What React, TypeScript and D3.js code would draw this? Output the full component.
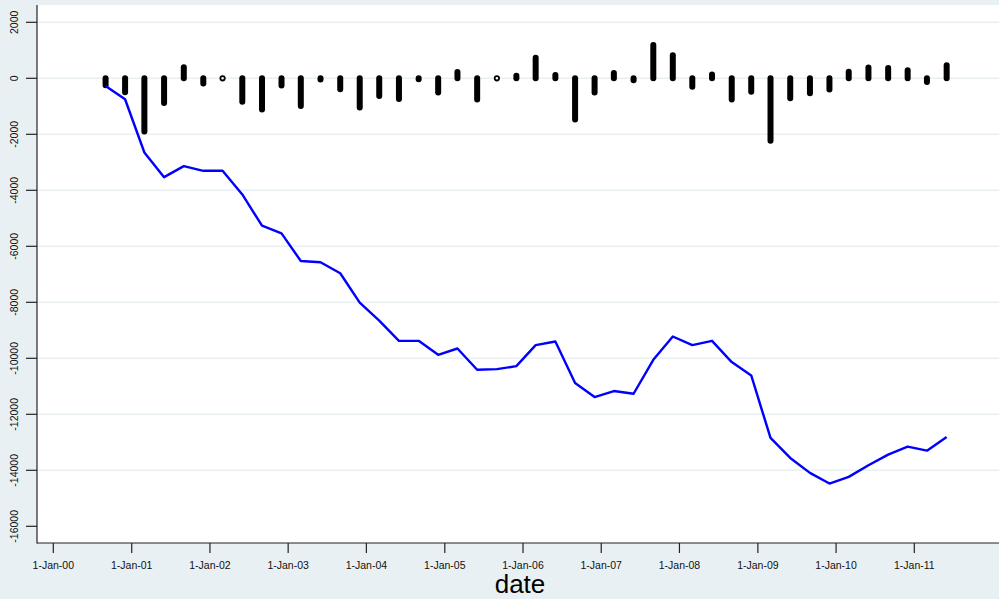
import React, { useEffect, useRef } from 'react';
import * as d3 from 'd3';

// quarterly observation dates
const dates = [
  '2000-09-01', '2000-12-01', '2001-03-01', '2001-06-01', '2001-09-01', '2001-12-01',
  '2002-03-01', '2002-06-01', '2002-09-01', '2002-12-01', '2003-03-01', '2003-06-01',
  '2003-09-01', '2003-12-01', '2004-03-01', '2004-06-01', '2004-09-01', '2004-12-01',
  '2005-03-01', '2005-06-01', '2005-09-01', '2005-12-01', '2006-03-01', '2006-06-01',
  '2006-09-01', '2006-12-01', '2007-03-01', '2007-06-01', '2007-09-01', '2007-12-01',
  '2008-03-01', '2008-06-01', '2008-09-01', '2008-12-01', '2009-03-01', '2009-06-01',
  '2009-09-01', '2009-12-01', '2010-03-01', '2010-06-01', '2010-09-01', '2010-12-01',
  '2011-03-01', '2011-06-01',
];

// quarterly change (spikes)
const changes = [
  -250, -500, -1900, -880, 392, -190, 0, -840, -1117, -255, -986, -45,
  -390, -1046, -636, -736, -30, -505, 225, -754, 0, 90, 730, 120,
  -1468, -510, 190, -70, 1190, 820, -300, 140, -760, -476, -2227, -713,
  -535, -400, 238, 390, 365, 285, -130, 470,
];

// cumulative level (blue line)
const level = [
  -274, -749, -2650, -3530, -3137, -3304, -3304, -4147, -5264, -5537, -6524, -6571,
  -6963, -8010, -8652, -9376, -9376, -9875, -9650, -10410, -10386, -10280, -9530, -9400,
  -10885, -11384, -11170, -11266, -10053, -9222, -9530, -9376, -10136, -10613, -12845, -13558,
  -14093, -14474, -14236, -13822, -13440, -13155, -13298, -12810,
];

const yTicks = [2000, 0, -2000, -4000, -6000, -8000, -10000, -12000, -14000, -16000];
const xTickYears = ['2000', '2001', '2002', '2003', '2004', '2005', '2006', '2007', '2008', '2009', '2010', '2011'];

const W = 999;
const H = 599;

export default function App() {
  const svgRef = useRef<SVGSVGElement>(null);

  useEffect(() => {
    if (!svgRef.current) return;
    const svg = d3.select(svgRef.current);
    svg.selectAll('*').remove();

    const plot = { left: 37, right: 999, top: 5, bottom: 543 };
    const font = '"Liberation Sans", Arial, sans-serif';

    const x = d3.scaleUtc()
      .domain([new Date(Date.UTC(2000, 0, 1)), new Date(Date.UTC(2011, 0, 1))])
      .range([53.3, 914.3]);
    const y = d3.scaleLinear().domain([2000, -16000]).range([22.3, 526.3]);

    const parse = d3.utcParse('%Y-%m-%d');
    const pts = dates.map((d, i) => ({ date: parse(d) as Date, chg: changes[i], lvl: level[i] }));

    // backgrounds
    svg.append('rect').attr('width', W).attr('height', H).attr('fill', '#e9f0f3');
    svg.append('rect')
      .attr('x', plot.left).attr('y', plot.top)
      .attr('width', plot.right - plot.left).attr('height', plot.bottom - plot.top)
      .attr('fill', '#ffffff');

    // grid
    svg.append('g').selectAll('line')
      .data(yTicks.filter(t => t > -16000))
      .enter().append('line')
      .attr('x1', plot.left).attr('x2', plot.right)
      .attr('y1', d => y(d)).attr('y2', d => y(d))
      .attr('stroke', '#e9f0f3').attr('stroke-width', 1.6);

    // spikes
    const spikes = svg.append('g');
    pts.forEach(p => {
      if (p.chg === 0) {
        spikes.append('circle')
          .attr('cx', x(p.date)).attr('cy', y(0)).attr('r', 2.2)
          .attr('fill', '#ffffff').attr('stroke', '#000').attr('stroke-width', 1.8);
      } else {
        spikes.append('line')
          .attr('x1', x(p.date)).attr('x2', x(p.date))
          .attr('y1', y(0)).attr('y2', y(p.chg))
          .attr('stroke', '#000').attr('stroke-width', 6)
          .attr('stroke-linecap', 'round');
      }
    });

    // level line
    const line = d3.line<typeof pts[0]>().x(d => x(d.date)).y(d => y(d.lvl));
    svg.append('path')
      .datum(pts)
      .attr('d', line)
      .attr('fill', 'none')
      .attr('stroke', '#0000ff')
      .attr('stroke-width', 2.4)
      .attr('stroke-linejoin', 'round');

    // axes lines
    svg.append('line')
      .attr('x1', plot.left).attr('x2', plot.left)
      .attr('y1', plot.top).attr('y2', plot.bottom + 0.5)
      .attr('stroke', '#222').attr('stroke-width', 1.2);
    svg.append('line')
      .attr('x1', plot.left).attr('x2', plot.right)
      .attr('y1', plot.bottom).attr('y2', plot.bottom)
      .attr('stroke', '#222').attr('stroke-width', 1.2);

    // y ticks and labels
    const yg = svg.append('g');
    yTicks.forEach(t => {
      yg.append('line')
        .attr('x1', 26).attr('x2', plot.left)
        .attr('y1', y(t)).attr('y2', y(t))
        .attr('stroke', '#222').attr('stroke-width', 1.2);
      yg.append('text')
        .attr('transform', `translate(18,${y(t)}) rotate(-90)`)
        .attr('text-anchor', 'middle')
        .style('font-family', font)
        .style('font-size', '10.5px')
        .attr('fill', '#111')
        .text(String(t));
    });

    // x ticks and labels
    const fmt = d3.utcFormat('%-d-%b-%y');
    const xg = svg.append('g');
    xTickYears.forEach(yr => {
      const d = new Date(Date.UTC(+yr, 0, 1));
      xg.append('line')
        .attr('x1', x(d)).attr('x2', x(d))
        .attr('y1', plot.bottom).attr('y2', plot.bottom + 10)
        .attr('stroke', '#222').attr('stroke-width', 1.2);
      xg.append('text')
        .attr('x', x(d)).attr('y', 568.5)
        .attr('text-anchor', 'middle')
        .style('font-family', font)
        .style('font-size', '10.5px')
        .attr('fill', '#111')
        .text(fmt(d));
    });

    // x title
    svg.append('text')
      .attr('x', 520).attr('y', 593)
      .attr('text-anchor', 'middle')
      .style('font-family', font)
      .style('font-size', '26px')
      .attr('fill', '#000')
      .text('date');
  }, []);

  return (
    <svg
      ref={svgRef}
      width={W}
      height={H}
      style={{ position: 'absolute', left: 0, top: 0, display: 'block' }}
    />
  );
}
